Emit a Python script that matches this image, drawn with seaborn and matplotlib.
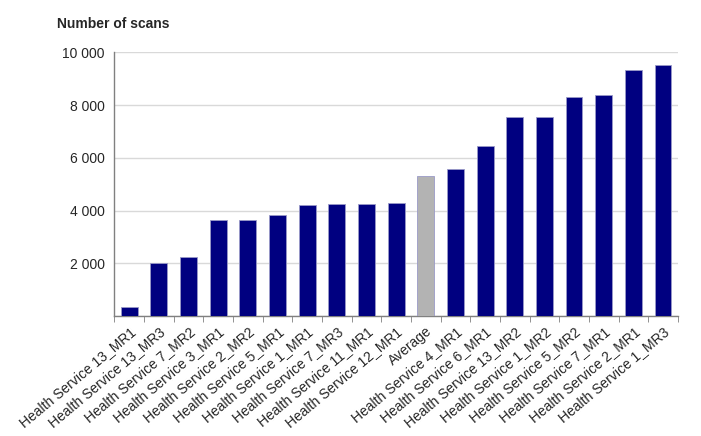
import numpy as np
import pandas as pd
import matplotlib.pyplot as plt
import seaborn as sns
from matplotlib.ticker import FuncFormatter, FixedLocator

services = ['Health Service 13_MR1', 'Health Service 13_MR3', 'Health Service 7_MR2',
            'Health Service 3_MR1', 'Health Service 2_MR2', 'Health Service 5_MR1',
            'Health Service 1_MR1', 'Health Service 7_MR3', 'Health Service 11_MR1',
            'Health Service 12_MR1', 'Average', 'Health Service 4_MR1',
            'Health Service 6_MR1', 'Health Service 13_MR2', 'Health Service 1_MR2',
            'Health Service 5_MR2', 'Health Service 7_MR1', 'Health Service 2_MR1',
            'Health Service 1_MR3']
scans = [330, 2020, 2240, 3630, 3650, 3845, 4210, 4240, 4270, 4275, 5310,
         5580, 6440, 7540, 7540, 8320, 8400, 9335, 9515]

df = pd.DataFrame({'service': services, 'scans': scans})
df['kind'] = np.where(df['service'] == 'Average', 'avg', 'unit')

sns.set_style('white')
plt.rcParams['font.family'] = ['Liberation Sans', 'DejaVu Sans']

fig = plt.figure(figsize=(7.01, 4.36), dpi=100)
ax = fig.add_axes([0.163, 0.275, 0.804, 0.6048])

sns.barplot(data=df, x='service', y='scans', hue='kind', dodge=False,
            palette={'unit': '#000080', 'avg': '#b3b3b3'}, saturation=1, width=0.57,
            edgecolor='#9a9ac8', linewidth=0.6, legend=False, ax=ax, zorder=3)

ax.set_xlim(-0.5, len(services) - 0.5)
ax.set_ylim(0, 10000)
ax.set_yticks(range(0, 10001, 2000))
ax.yaxis.set_major_formatter(FuncFormatter(lambda v, p: '' if v == 0 else f'{int(v):,}'.replace(',', ' ')))
ax.grid(axis='y', color='#d9d9d9', linewidth=1, zorder=0)
ax.set_axisbelow(True)

for s in ['top', 'right']:
    ax.spines[s].set_visible(False)
for s in ['left', 'bottom']:
    ax.spines[s].set_color('#808080')
    ax.spines[s].set_linewidth(1)

ax.tick_params(axis='y', length=4, color='#808080', labelsize=10, pad=3)
ax.tick_params(axis='x', which='major', length=0, labelsize=10, pad=6)
ax.xaxis.set_minor_locator(FixedLocator(np.arange(-0.5, len(services), 1)))
ax.tick_params(axis='x', which='minor', length=4, color='#808080', bottom=True)
plt.setp(ax.get_xticklabels(), rotation=40, ha='right', rotation_mode='anchor')

ax.set_xlabel('')
ax.set_ylabel('')
fig.text(0.081, 0.945, 'Number of scans', fontsize=10, fontweight='bold', va='center')

fig.savefig('out.png', dpi=100)
